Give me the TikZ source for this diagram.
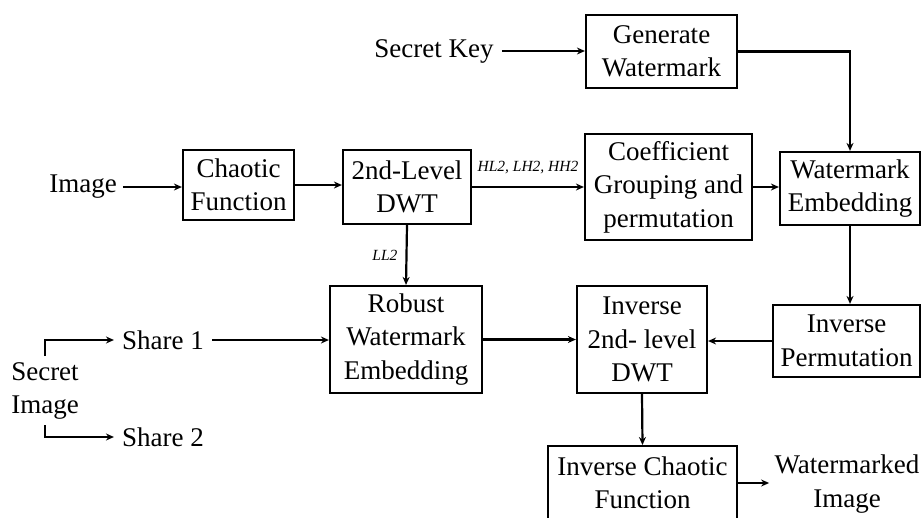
\documentclass[tikz,border=0pt]{standalone}
\usepackage{fontspec}
\setmainfont{Liberation Serif}
\usetikzlibrary{arrows.meta}
\begin{document}
\begin{tikzpicture}[x=1pt,y=-1pt,
  every node/.style={font=\fontsize{27}{33.5}\selectfont, align=center, inner sep=0pt},
  blk/.style={draw, line width=2.2pt},
  lbl/.style={font=\fontsize{15.5}{18}\selectfont\itshape},
  arr/.style={line width=2.2pt, -{Stealth[length=8pt,width=7pt]}}]
\useasboundingbox (0,0) rectangle (923,517);
% processing blocks
\node[blk, minimum width=151pt, minimum height=73pt] (gen) at (661.5,51.5) {Generate\\Watermark};
\node[blk, minimum width=111pt, minimum height=70pt] (chaos) at (238.5,185) {Chaotic\\Function};
\node[blk, minimum width=128pt, minimum height=74pt] (dwt) at (407,187) {2nd-Level\\DWT};
\node[blk, minimum width=167pt, minimum height=106pt] (coef) at (668.5,187) {Coefficient\\Grouping and\\permutation};
\node[blk, minimum width=140pt, minimum height=73pt] (wme) at (850,188.5) {Watermark\\Embedding};
\node[blk, minimum width=152pt, minimum height=107pt] (robust) at (406,339.5) {Robust\\Watermark\\Embedding};
\node[blk, minimum width=130pt, minimum height=107pt] (idwt) at (642,339.5) {Inverse\\2nd- level\\DWT};
\node[blk, minimum width=147pt, minimum height=72pt] (iperm) at (846.5,341) {Inverse\\Permutation};
\node[blk, minimum width=189pt, minimum height=100pt, anchor=north] (ichaos) at (642.5,445) {};
\node (ichaost) at (642.5,483) {Inverse Chaotic\\Function};
% plain text terminals
\node (key) at (434,51) {Secret Key};
\node (img) at (83,187) {Image};
\node (sh1) at (163,340) {Share 1};
\node (sh2) at (163,437) {Share 2};
\node (simg) at (45,391) {Secret\\Image};
\node (wimg) at (847,484) {Watermarked\\Image};
% connectors
\draw[arr] (key.east) ++(8,0) coordinate (k0) -- (k0 -| gen.west);
\draw[arr] (gen.east) -| (wme.north);
\draw[arr] (img.east) ++(6,0) coordinate (i0) -- (i0 -| chaos.west);
\draw[arr] (chaos.east) -- (chaos.east -| dwt.west);
\draw[arr] (dwt.east) -- (coef.west) node[lbl, midway, above=12pt] {HL2, LH2, HH2};
\draw[arr] (coef.east) -- (coef.east -| wme.west);
\draw[arr] (dwt.south) -- (robust.north) node[lbl, midway, left=8pt] {LL2};
\draw[arr] (wme.south) -- (wme.south |- iperm.north);
\draw[arr] (iperm.west) -- (iperm.west -| idwt.east);
\draw[arr] (sh1.east) ++(8,0) coordinate (s0) -- (s0 -| robust.west);
\draw[arr] (robust.east) -- (robust.east -| idwt.west);
\draw[arr] (idwt.south) -- (ichaos.north);
\draw[arr] (ichaos.east |- ichaost) -- ++(31,0) coordinate (wi);
\coordinate (su) at (45,356);
\coordinate (sd) at (45,425);
\draw[arr] (su) |- ([xshift=-8pt]sh1.west);
\draw[arr] (sd) |- ([xshift=-8pt]sh2.west);
\end{tikzpicture}
\end{document}
